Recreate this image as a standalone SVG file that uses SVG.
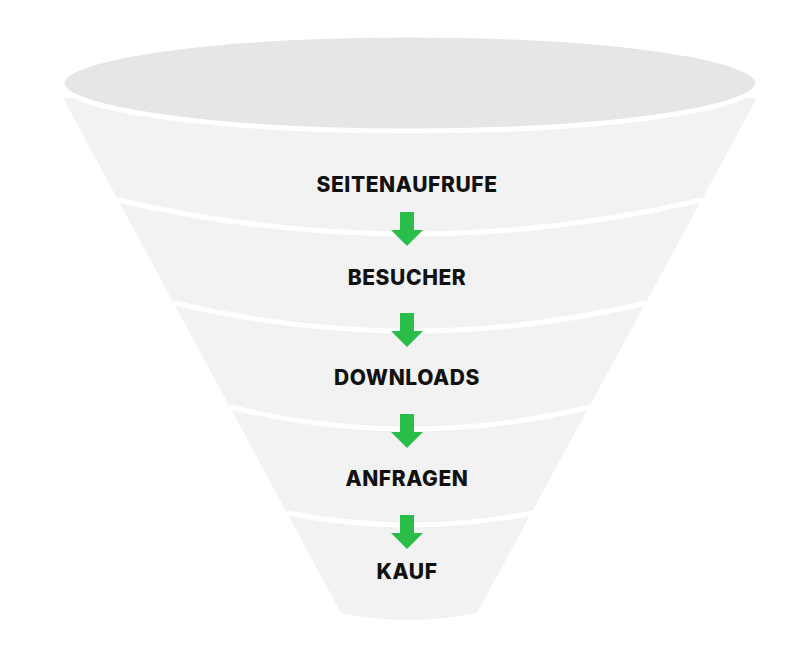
<svg xmlns="http://www.w3.org/2000/svg" width="800" height="660" viewBox="0 0 800 660">
<defs>
<style>
.lbl{font-family:Inter,"Liberation Sans",sans-serif;font-weight:800;font-size:21px;letter-spacing:0.6px;fill:#111;text-anchor:middle}
.sep{fill:none;stroke:#fff;stroke-width:5}
.arr{fill:#2bbd4a}
</style>
<path id="a" class="arr" d="M0,0 h14 v18 h9 l-16,16 l-16,-16 h9 z"/>
</defs>
<rect width="800" height="660" fill="#fff"/>
<g id="funnel">
<path d="M63,98 L341,613 Q409,627 477,613 L757,98 Z" fill="#f2f2f2"/>
<ellipse cx="410" cy="83" rx="348" ry="48" fill="#e6e6e6" stroke="#fff" stroke-width="5"/>
</g>
<g id="connectors">
<path class="sep" d="M118,200 Q410,268 702,200"/>
<path class="sep" d="M174,303 Q410,359 646,303"/>
<path class="sep" d="M230,407 Q410,451 590,407"/>
<path class="sep" d="M287,513 Q410,537 533,513"/>
<use href="#a" x="400" y="212"/>
<use href="#a" x="400" y="313"/>
<use href="#a" x="400" y="414"/>
<use href="#a" x="400" y="515"/>
</g>
<g id="n1"><text class="lbl" x="407" y="192">SEITENAUFRUFE</text></g>
<g id="n2"><text class="lbl" x="407" y="285">BESUCHER</text></g>
<g id="n3"><text class="lbl" x="407" y="385">DOWNLOADS</text></g>
<g id="n4"><text class="lbl" x="407" y="486">ANFRAGEN</text></g>
<g id="n5"><text class="lbl" x="407" y="579">KAUF</text></g>
</svg>
